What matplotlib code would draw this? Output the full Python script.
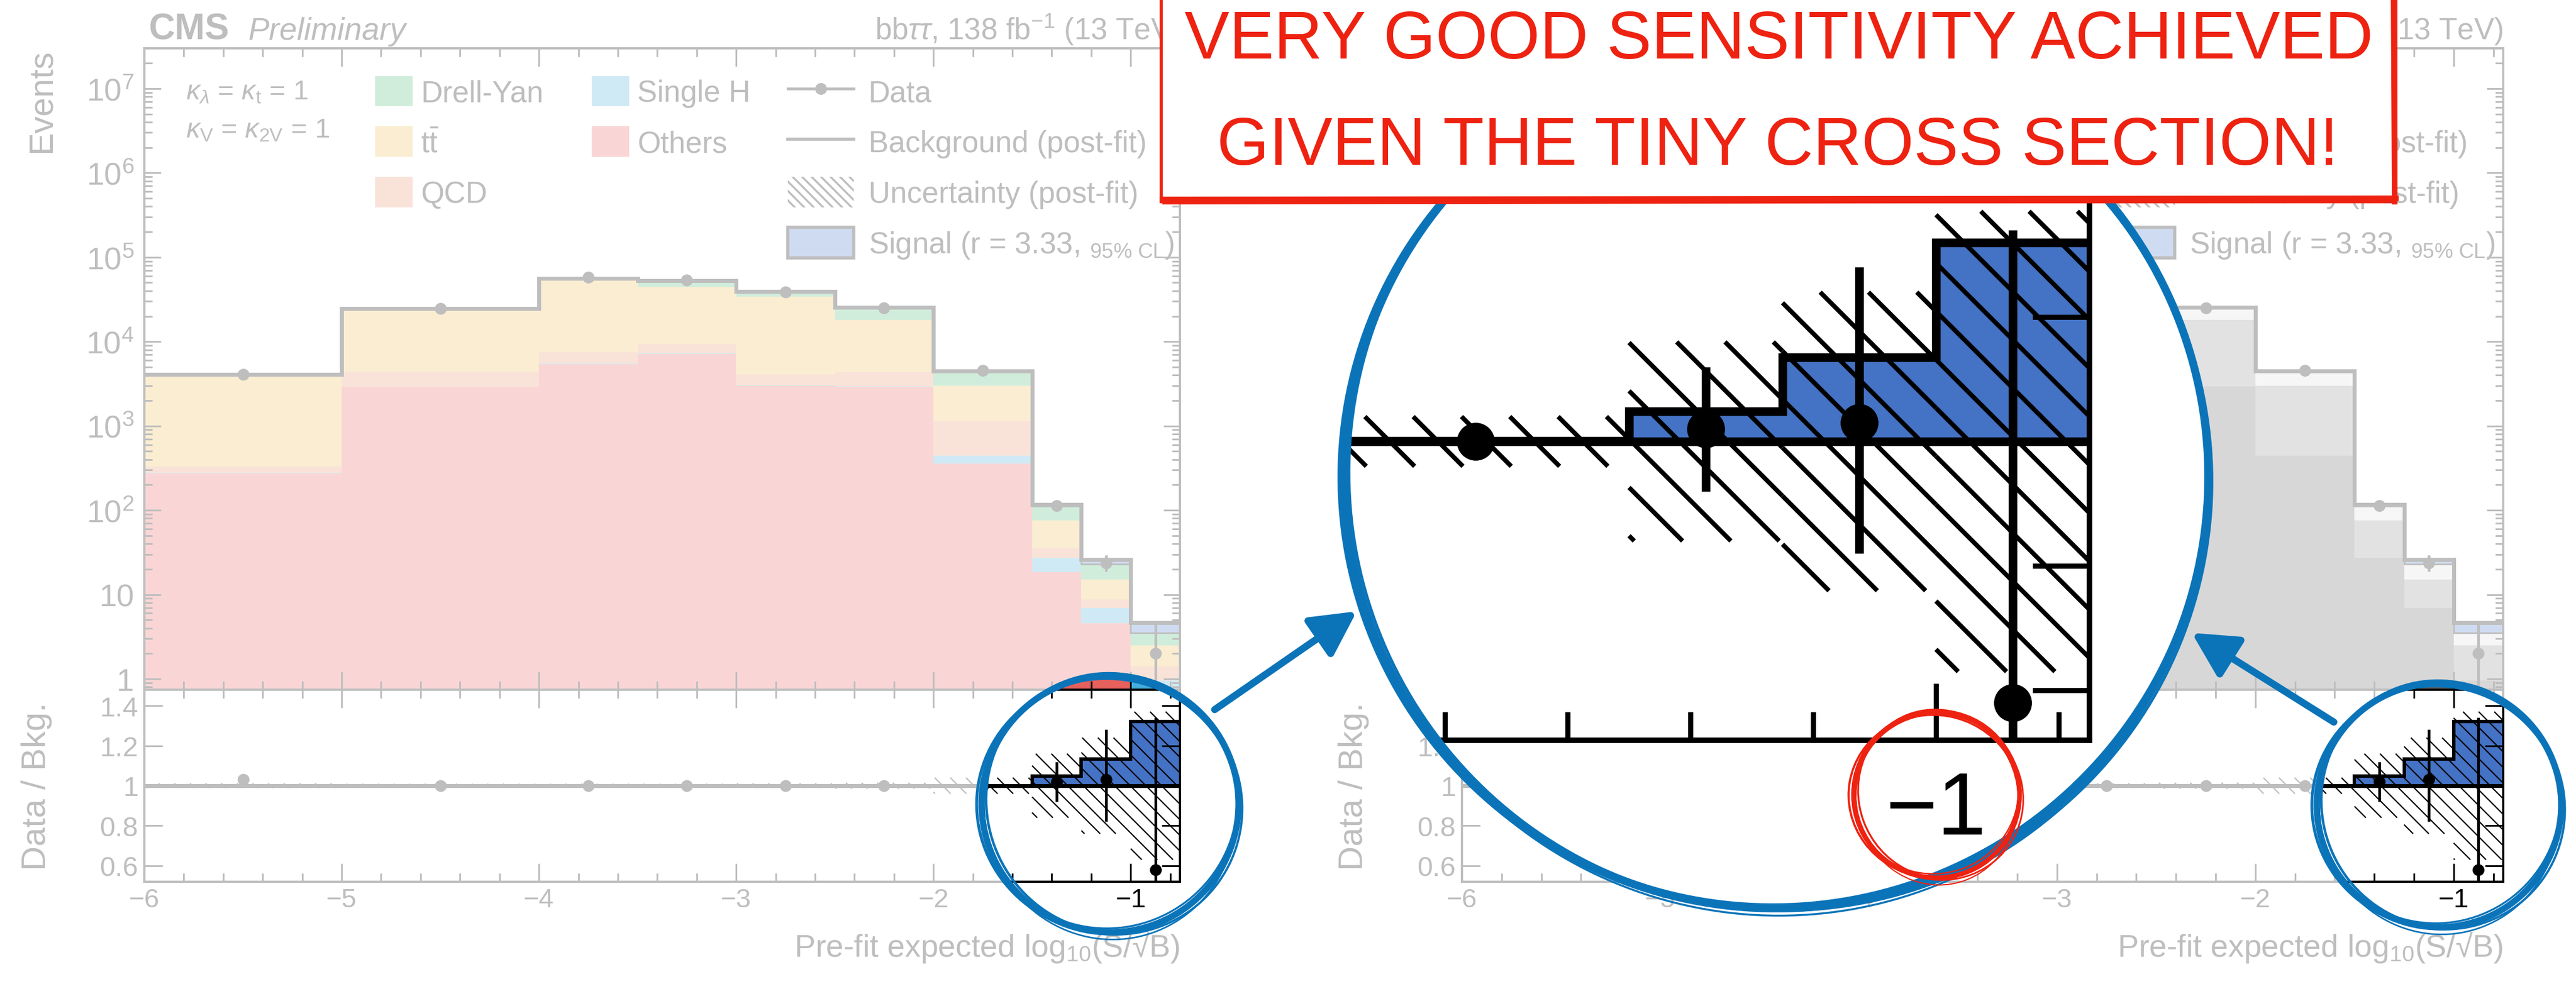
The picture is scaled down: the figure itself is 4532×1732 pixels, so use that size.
import numpy as np
import matplotlib.pyplot as plt
from matplotlib import font_manager
from matplotlib.collections import LineCollection
from matplotlib.lines import Line2D
from matplotlib.patches import Patch, Circle, Ellipse, Rectangle, PathPatch, Polygon, FancyArrowPatch
from matplotlib.path import Path
from matplotlib.ticker import FixedLocator, MultipleLocator, LogLocator, FuncFormatter, NullLocator
from matplotlib.transforms import IdentityTransform

plt.rcParams['font.family'] = ['Liberation Sans', 'DejaVu Sans']
plt.rcParams['mathtext.fontset'] = 'custom'
plt.rcParams['mathtext.rm'] = 'Liberation Sans'
plt.rcParams['mathtext.it'] = 'Liberation Sans:italic'
plt.rcParams['mathtext.bf'] = 'Liberation Sans:bold'
plt.rcParams['hatch.linewidth'] = 2.5

# values
edges = [-6, -5, -4, -3.5, -3, -2.5, -2, -1.5, -1.25, -1, -0.75]
others = [275, 2900, 5400, 7100, 3000, 2900, 360, 18.4, 4.6, 0.5]
single_h = [2, 20, 50, 100, 60, 50, 84, 8.9, 2.35, 0.45]
qcd = [53, 1510, 2050, 2200, 1040, 1390, 706, 8.2, 1.85, 0.45]
ttbar = [3650, 18570, 45500, 35300, 29900, 13860, 1850, 40.5, 6.2, 1.08]
drell_yan = [70, 1500, 3500, 8300, 5000, 7200, 1500, 36, 8, 1.02]
signal = [0.05, 0.3, 1.0, 1.2, 1.5, 2.0, 3.0, 5.4, 3.1, 1.12]
data = [4100, 24800, 57500, 53200, 38900, 25000, 4520, 114, 23.5, 2]
data_err_up = [64, 158, 240, 231, 197, 158, 67, 11.2, 5.9, 2.6]
data_err_dn = [64, 157, 240, 230, 197, 158, 67, 10.2, 4.8, 1.3]
ratio = [1.03, 1.0, 1.0, 1.0, 1.0, 1.0, 1.0, 1.02, 1.03, 0.58]
ratio_err_up = [0.016, 0.006, 0.004, 0.004, 0.005, 0.006, 0.015, 0.10, 0.25, 0.76]
ratio_err_dn = [0.016, 0.006, 0.004, 0.004, 0.005, 0.006, 0.015, 0.10, 0.21, 0.38]
bkg_unc = [0.012, 0.01, 0.01, 0.01, 0.012, 0.015, 0.04, 0.16, 0.24, 0.37]

stack = [others, single_h, qcd, ttbar, drell_yan]
colors_full = ['#e8605c', '#45aedb', '#eb936b', '#efbb4f', '#47bb73']
colors_grey = ['#636363', '#636363', '#8f8f8f', '#8f8f8f', '#dfdfdf']
SIG = '#4472c4'
BLUE = '#0b74b9'
RED = '#ee2211'

edges = np.array(edges)
centers = 0.5 * (edges[:-1] + edges[1:])
bkg = np.sum(np.array(stack), axis=0)
sig_ratio = (bkg + np.array(signal)) / bkg
ones = bkg / bkg
unc = np.array(bkg_unc)

W, H = 4532, 1733
fig = plt.figure(figsize=(W / 100, H / 100), dpi=100)


def frac(left, top, right, bottom):
    return [left / W, 1 - bottom / H, (right - left) / W, (bottom - top) / H]


def hatch_band(ax, lo, hi, step, lw, zorder):
    # "\\" hatch drawn in pixel space so it keeps a fixed spacing
    segs = []
    for x0, x1, a, b in zip(edges[:-1], edges[1:], lo, hi):
        (X0, Y0), (X1, Y1) = ax.transData.transform([(x0, a), (x1, b)])
        for k in range(int(np.floor((X0 + Y0) / step)), int(np.ceil((X1 + Y1) / step)) + 1):
            c = k * step
            xa, xb = max(X0, c - Y1), min(X1, c - Y0)
            if xb > xa:
                segs.append([(xa, c - xa), (xb, c - xb)])
    lc = LineCollection(segs, colors='black', linewidths=lw, transform=IdentityTransform(), zorder=zorder)
    ax.add_collection(lc, autolim=False)
    return lc


def log_label(v, pos):
    e = int(round(np.log10(v)))
    return '1' if e == 0 else '10' if e == 1 else '$10^{%d}$' % e


def draw_panel(x0, x1, colors):
    axu = fig.add_axes(frac(x0, 86, x1, 1215))
    axr = fig.add_axes(frac(x0, 1215, x1, 1553))
    axu.set_yscale('log')
    axu.set_ylim(0.745, 3e7)
    axr.set_ylim(0.52, 1.48)
    for ax in (axu, axr):
        ax.set_xlim(-6, -0.75)
        ax.xaxis.set_major_locator(MultipleLocator(1))
        ax.xaxis.set_minor_locator(MultipleLocator(0.2))
        ax.tick_params(which='both', direction='in', top=True, right=True, width=2.2)
        ax.tick_params(which='major', length=23)
        ax.tick_params(which='minor', length=11)
        for s in ax.spines.values():
            s.set_linewidth(2.8)

    base = np.zeros(len(centers))
    for vals, col in zip(stack, colors):
        top = base + np.array(vals)
        axu.stairs(top, edges, baseline=np.maximum(base, 1e-2), fill=True, color=col, lw=0, zorder=1)
        base = top
    axu.stairs(base + np.array(signal), edges, baseline=base, fill=True,
               facecolor=SIG, edgecolor='black', lw=2, zorder=2)
    axu.stairs(base + np.array(signal), edges, baseline=None, color='black', lw=5, zorder=3)
    axu.errorbar(centers, data, yerr=[data_err_dn, data_err_up], fmt='o', color='black',
                 ms=14, elinewidth=3.4, capsize=0, zorder=5)
    axu.yaxis.set_major_locator(LogLocator(base=10, numticks=20))
    axu.yaxis.set_minor_locator(LogLocator(base=10, subs=np.arange(2, 10), numticks=20))
    axu.yaxis.set_major_formatter(FuncFormatter(log_label))
    axu.tick_params(axis='y', which='major', length=21, labelsize=40, pad=13)
    axu.tick_params(axis='y', which='minor', length=10)
    axu.tick_params(axis='x', labelbottom=False)
    axu.set_ylabel('Events', fontsize=43, loc='top')
    axu.yaxis.set_label_coords(-0.084, 1.0)

    axu.text(0.004, 1.0142, 'CMS', fontsize=46, fontweight='bold', va='baseline', transform=axu.transAxes)
    axu.text(0.0999, 1.0142, 'Preliminary', fontsize=40, style='italic', va='baseline', transform=axu.transAxes)
    axu.text(1.0, 1.0142, r'bb$\tau\tau$, 138 fb$^{-1}$ (13 TeV)', fontsize=38, ha='right',
             va='baseline', transform=axu.transAxes)
    axu.text(0.040, 0.9318, r'$\kappa_{\lambda}$ = $\kappa_{\mathrm{t}}$ = 1', fontsize=35, va='center',
             transform=axu.transAxes)
    axu.text(0.040, 0.8725, r'$\kappa_{\mathrm{V}}$ = $\kappa_{\mathrm{2V}}$ = 1', fontsize=35, va='center',
             transform=axu.transAxes)

    common = dict(loc='upper left', frameon=False, fontsize=38, handleheight=1.19,
                  labelspacing=0.63, borderpad=0, borderaxespad=0)
    leg1 = axu.legend([Patch(facecolor=colors[4], lw=0), Patch(facecolor=colors[3], lw=0),
                       Patch(facecolor=colors[2], lw=0)],
                      ['Drell-Yan', r'$\mathrm{t\bar{t}}$', 'QCD'], bbox_to_anchor=(0.2228, 0.957),
                      handlelength=1.25, handletextpad=0.27, **common)
    axu.add_artist(leg1)
    leg2 = axu.legend([Patch(facecolor=colors[1], lw=0), Patch(facecolor=colors[0], lw=0)],
                      ['Single H', 'Others'], bbox_to_anchor=(0.4319, 0.957),
                      handlelength=1.25, handletextpad=0.27, **common)
    axu.add_artist(leg2)
    axu.legend([Line2D([], [], color='black', lw=3.5, marker='o', ms=14),
                Line2D([], [], color='black', lw=4),
                Patch(facecolor='white', edgecolor='black', hatch='\\\\', lw=0),
                Patch(facecolor=SIG, edgecolor='black', lw=4)],
               ['Data', 'Background (post-fit)', 'Uncertainty (post-fit)',
                r'Signal (r = 3.33, ${}_{\mathrm{95\%\ CL}}$)'],
               bbox_to_anchor=(0.6213, 0.957), handlelength=2.2, handletextpad=0.49, **common)

    axr.stairs(sig_ratio, edges, baseline=1, fill=True, color=SIG, lw=0, zorder=1)
    hatch_band(axr, ones - unc, ones + unc, 27.5, 1.6, 2)
    axr.stairs(sig_ratio, edges, baseline=None, color='black', lw=4.3, zorder=3)
    axr.stairs(ones, edges, baseline=None, color='black', lw=5, zorder=3)
    axr.errorbar(centers, ratio, yerr=[ratio_err_dn, ratio_err_up], fmt='o', color='black',
                 ms=14, elinewidth=3.4, capsize=0, zorder=4)
    axr.yaxis.set_major_locator(FixedLocator([0.6, 0.8, 1.0, 1.2, 1.4]))
    axr.yaxis.set_minor_locator(NullLocator())
    axr.yaxis.set_major_formatter(FuncFormatter(lambda v, p: '%g' % v))
    axr.tick_params(axis='y', labelsize=35, pad=8)
    axr.tick_params(axis='x', labelsize=34, pad=7)
    axr.set_ylabel('Data / Bkg.', fontsize=43)
    axr.yaxis.set_label_coords(-0.089, 0.5)
    axr.set_xlabel('Pre-fit expected log$_{10}$(S/\u221aB)', fontsize=40, loc='right')
    axr.xaxis.set_label_coords(1.0, -0.25)
    return axu, axr


draw_panel(254, 2076, colors_full)
draw_panel(2572, 4404, colors_grey)


def pixel_axes(z):
    a = fig.add_axes([0, 0, 1, 1], zorder=z)
    a.set_xlim(0, W)
    a.set_ylim(H, 0)
    a.axis('off')
    return a


def circle_pts(cx, cy, r, reverse=False, n=360):
    t = np.linspace(0, 2 * np.pi, n)
    if reverse:
        t = t[::-1]
    return np.column_stack([cx + r * np.cos(t), cy + r * np.sin(t)])


mk = pixel_axes(5)
ov = pixel_axes(7)

BIG = (3125, 840, 760)
SMALL_L = (1953, 1416, 226)
SMALL_R = (4291, 1418, 215)

# faded veil with two highlighted holes
verts = [(-10, -10), (W + 10, -10), (W + 10, H + 10), (-10, H + 10), (-10, -10)]
codes = [Path.MOVETO, Path.LINETO, Path.LINETO, Path.LINETO, Path.CLOSEPOLY]
for cx, cy, r in (SMALL_L, SMALL_R):
    pts = circle_pts(cx, cy, r - 4, reverse=True)
    verts += [tuple(p) for p in pts]
    codes += [Path.MOVETO] + [Path.LINETO] * (len(pts) - 2) + [Path.CLOSEPOLY]
mk.add_patch(PathPatch(Path(verts, codes), facecolor='white', alpha=0.75, lw=0))
mk.add_patch(Circle(BIG[:2], BIG[2], facecolor='white', lw=0))

# magnified view of the ratio panel
MX0, MXS, MY0, MYS = 2866, 1080, 778, 1095
mxl, myl = (-1.97, -0.75), (0.52, 1.48)
gx = lambda x: MX0 + (x + 1.5) * MXS
gy = lambda r: MY0 - (r - 1) * MYS
mg = fig.add_axes(frac(gx(mxl[0]), gy(myl[1]), gx(mxl[1]), gy(myl[0])), zorder=6)
mg.set_xlim(mxl)
mg.set_ylim(myl)
mg.patch.set_visible(False)
mg.stairs(sig_ratio, edges, baseline=1, fill=True, color=SIG, lw=0, zorder=1)
hatch_band(mg, ones - unc, ones + unc, 85, 5.8, 2)
mg.stairs(sig_ratio, edges, baseline=None, color='black', lw=11, zorder=3)
mg.stairs(ones, edges, baseline=None, color='black', lw=11, zorder=3)
mg.errorbar(centers, ratio, yerr=[ratio_err_dn, ratio_err_up], fmt='o', color='black',
            ms=47, elinewidth=11, capsize=0, zorder=4)
pts = circle_pts(*BIG)
pts[:, 0] = np.clip(pts[:, 0], gx(mxl[0]), gx(mxl[1]))
pts[:, 1] = np.clip(pts[:, 1], gy(myl[1]), gy(myl[0]))
clip_poly = Polygon(pts, closed=True, transform=ov.transData)
for art in mg.lines + mg.collections + mg.patches:
    art.set_clip_path(clip_poly)
clip_circ = Circle(BIG[:2], BIG[2], transform=ov.transData)
mg.spines['left'].set_visible(False)
mg.spines['top'].set_visible(False)
for side in ('bottom', 'right'):
    mg.spines[side].set_linewidth(7)
    mg.spines[side].set_clip_path(clip_circ)
mg.xaxis.set_major_locator(FixedLocator([-1]))
mg.xaxis.set_minor_locator(FixedLocator([-1.8, -1.6, -1.4, -1.2, -0.8]))
mg.yaxis.set_major_locator(FixedLocator([0.6, 0.8, 1.0, 1.2, 1.4]))
mg.yaxis.set_minor_locator(NullLocator())
mg.tick_params(which='both', direction='in', width=6.5, top=False, left=False, right=True,
               labelleft=False)
mg.tick_params(axis='x', which='major', length=72, labelsize=112, pad=38)
mg.tick_params(axis='x', which='minor', length=36)
mg.tick_params(axis='y', which='major', length=72)


def ring(cx, cy, r, color, lw):
    for dx, dy, dr, ang, f in [(0, 0, 0, 0, 1.0), (-4, 3, 5, 10, 0.45), (3, -2, -6, -20, 0.4),
                               (5, 4, 3, 35, 0.35), (-2, -5, -3, 60, 0.3), (1, 6, 7, 80, 0.25)]:
        ov.add_patch(Ellipse((cx + dx, cy + dy), 2 * (r + dr), 2 * (r - 0.5 * dr), angle=ang,
                             fill=False, ec=color, lw=lw * f))


ring(*BIG, BLUE, 10)
ring(*SMALL_L, BLUE, 8)
ring(*SMALL_R, BLUE, 8)
ring(3407, 1400, 146, RED, 6)

for tail, tip in (((2137, 1250), (2387, 1077)), ((4106, 1272), (3856, 1115))):
    ov.add_patch(FancyArrowPatch(tail, tip, arrowstyle='-|>,head_length=0.8,head_width=0.42',
                                 mutation_scale=60, color=BLUE, lw=9, shrinkA=0, shrinkB=0,
                                 capstyle='round'))

# red comment box
ov.add_patch(Rectangle((2043, -20), 2172, 376, facecolor='white', edgecolor=RED, lw=4, zorder=10))
ov.plot([2040, 4220], [352, 350], color=RED, lw=7, zorder=11, solid_capstyle='butt')
ov.plot([2045, 4218], [358, 355], color=RED, lw=4, zorder=11, solid_capstyle='butt')
ov.plot([4211, 4213], [-10, 356], color=RED, lw=7, zorder=11)

names = {f.name for f in font_manager.fontManager.ttflist}
if 'Liberation Sans Narrow' in names:
    bfont, bsize = 'Liberation Sans Narrow', 96
else:
    bfont, bsize = 'Liberation Sans', 85
ov.text(3130, 103, 'VERY GOOD SENSITIVITY ACHIEVED', color=RED, fontsize=bsize, family=bfont,
        ha='center', va='baseline', zorder=12)
ov.text(3127, 290, 'GIVEN THE TINY CROSS SECTION!', color=RED, fontsize=bsize, family=bfont,
        ha='center', va='baseline', zorder=12)

fig.savefig('out.png', dpi=100)
